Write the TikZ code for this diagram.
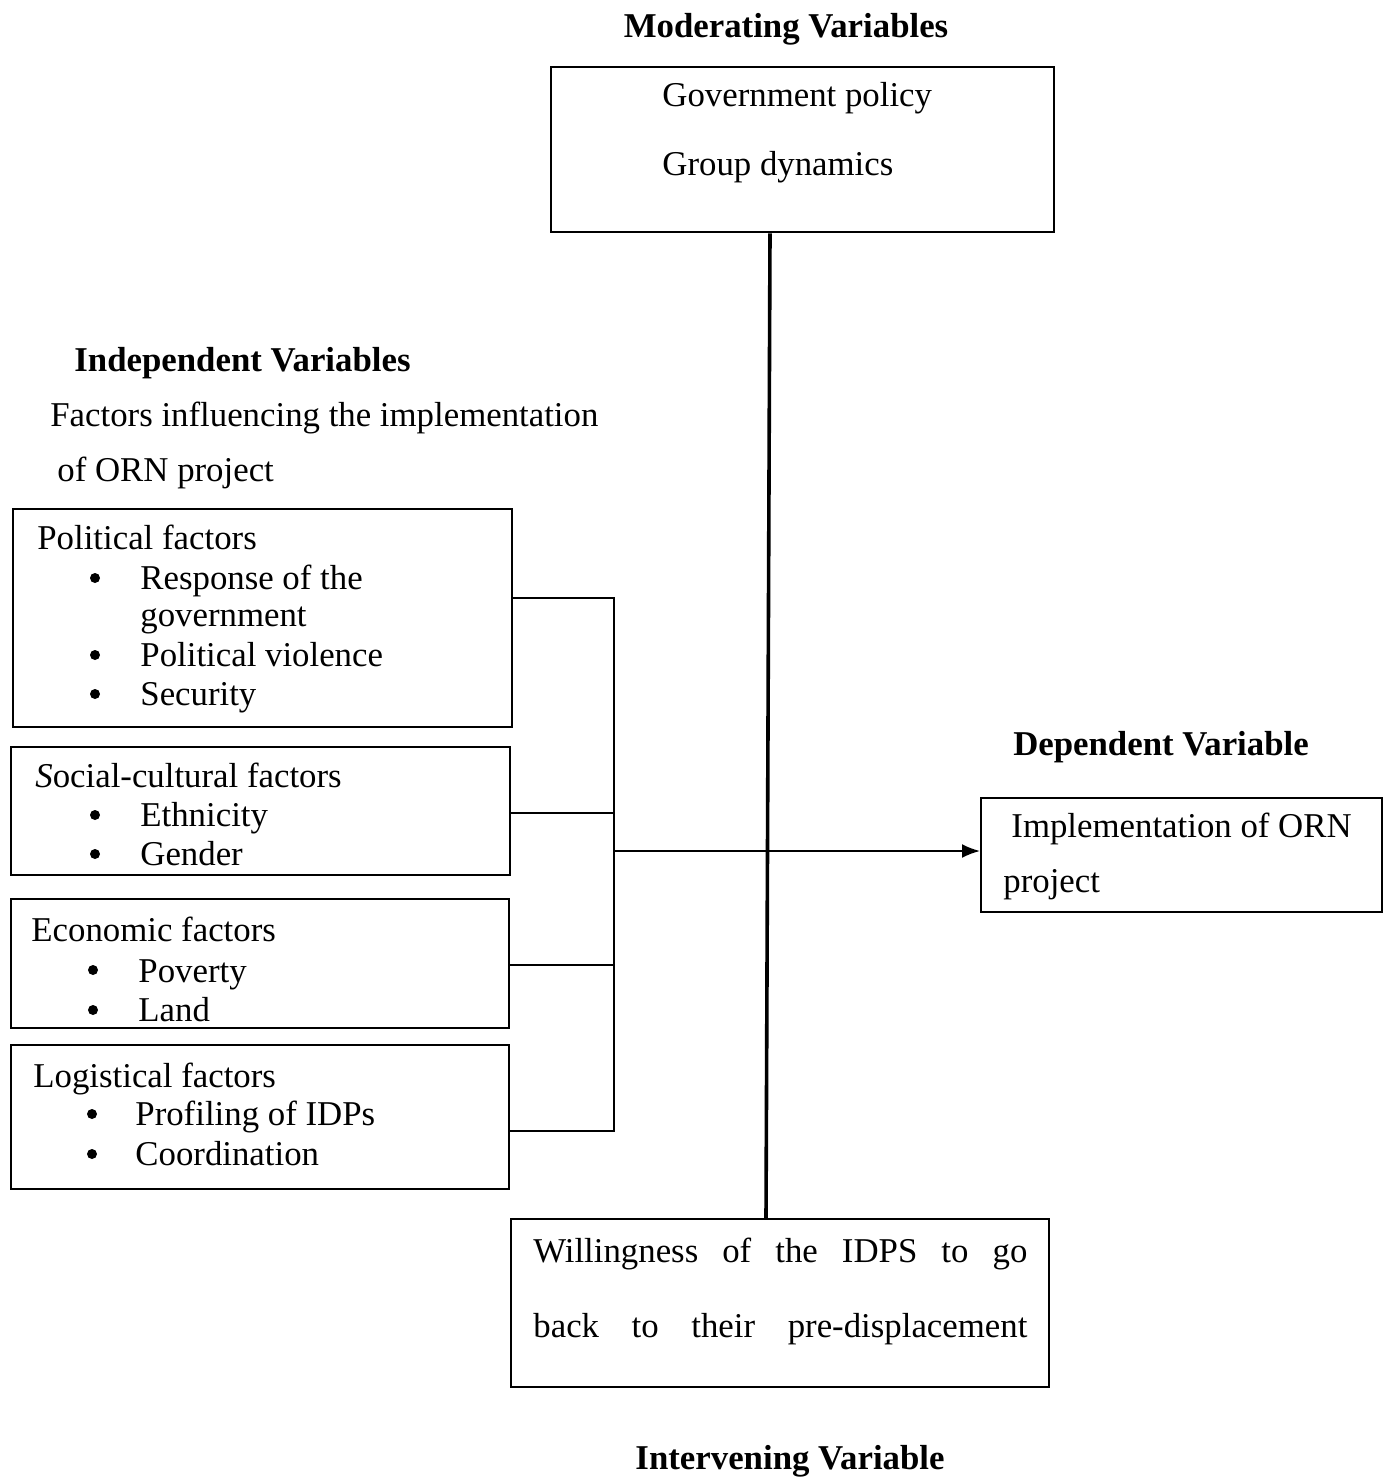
\documentclass[tikz,border=0pt]{standalone}
\usepackage{fontspec}
\setmainfont{Liberation Serif}
\usetikzlibrary{arrows.meta}
\begin{document}
\begin{tikzpicture}[x=0.5pt,y=-0.5pt,
  box/.style={draw, line width=1.2pt, inner sep=0pt, anchor=north west},
  txt/.style={anchor=base west, inner sep=0pt, font=\fontsize{17.4}{20}\selectfont},
  bul/.style={circle, fill, inner sep=0pt, minimum size=5pt},
  head/.style={anchor=base, inner sep=0pt, font=\fontsize{17.4}{20}\selectfont\bfseries},
  link/.style={line width=1pt},
  main/.style={line width=1.8pt}]
\useasboundingbox (0,0) rectangle (1383,1477);

% headings
\node[head] (hmod) at (786,38) {Moderating Variables};
\node[txt, font=\fontsize{17.4}{20}\selectfont\bfseries] (hind) at (74,371) {Independent Variables};
\node[txt] (find1) at (50,426) {Factors influencing the implementation};
\node[txt] (find2) at (57,481) {of ORN project};
\node[head] (hdep) at (1161,755) {Dependent Variable};
\node[head] (hint) at (790,1469) {Intervening Variable};

% moderating box
\node[box, minimum width=251.5pt, minimum height=82.5pt] (mod) at (550,66) {};
\node[txt] (m1) at (662,106) {Government policy};
\node[txt] (m2) at (662,176) {Group dynamics};

% political
\node[box, minimum width=249.5pt, minimum height=109pt] (pol) at (12,508) {};
\node[txt] (p0) at (37,549) {Political factors};
\node[bul] (pb1) at (95,578) {};
\node[txt] (p1) at (140,589) {Response of the};
\node[txt] (p1b) at (140,626) {government};
\node[bul] (pb2) at (95,655) {};
\node[txt] (p2) at (140,666) {Political violence};
\node[bul] (pb3) at (95,694) {};
\node[txt] (p3) at (140,705) {Security};

% social
\node[box, minimum width=249.5pt, minimum height=64pt] (soc) at (10,746) {};
\node[txt] (s0) at (35,787) {\textit{S}ocial-cultural factors};
\node[bul] (sb1) at (95,815) {};
\node[txt] (s1) at (140,826) {Ethnicity};
\node[bul] (sb2) at (95,854) {};
\node[txt] (s2) at (140,865) {Gender};

% economic
\node[box, minimum width=249pt, minimum height=64.5pt] (eco) at (10,898) {};
\node[txt] (e0) at (31,941) {Economic factors};
\node[bul] (eb1) at (93,970) {};
\node[txt] (e1) at (138,982) {Poverty};
\node[bul] (eb2) at (93,1010) {};
\node[txt] (e2) at (138,1021) {Land};

% logistical
\node[box, minimum width=249pt, minimum height=72pt] (log) at (10,1044) {};
\node[txt] (l0) at (33,1087) {Logistical factors};
\node[bul] (lb1) at (92,1114) {};
\node[txt] (l1) at (135,1125) {Profiling of IDPs};
\node[bul] (lb2) at (92,1154) {};
\node[txt] (l2) at (135,1165) {Coordination};

% dependent
\node[box, minimum width=200.5pt, minimum height=57pt] (dep) at (980,797) {};
\node[txt] (d1) at (1011,837) {Implementation of ORN};
\node[txt] (d2) at (1003,892) {project};

% intervening
\node[box, minimum width=269pt, minimum height=84pt] (int) at (510,1218) {};
\node[txt] (i1) at (533,1262) {\hbox to 247pt{Willingness\hfill of\hfill the\hfill IDPS\hfill to\hfill go}};
\node[txt] (i2) at (533,1337) {\hbox to 247pt{back\hfill to\hfill their\hfill pre-displacement}};

% connectors
\coordinate (j1) at (614,598);
\coordinate (j2) at (614,813);
\coordinate (j3) at (614,965);
\coordinate (j4) at (614,1131);
\coordinate (jm) at (614,851);
\draw[link] (pol.east |- j1) -- (j1) -- (j4) -- (log.east |- j4);
\draw[link] (soc.east |- j2) -- (j2);
\draw[link] (eco.east |- j3) -- (j3);
\draw[link, -{Latex[length=9pt,width=7pt]}] (jm) -- (dep.west |- jm);
\coordinate (vt) at (770,231);
\coordinate (vb) at (766,1218);
\draw[main] (mod.south -| vt) -- (int.north -| vb);
\end{tikzpicture}
\end{document}
